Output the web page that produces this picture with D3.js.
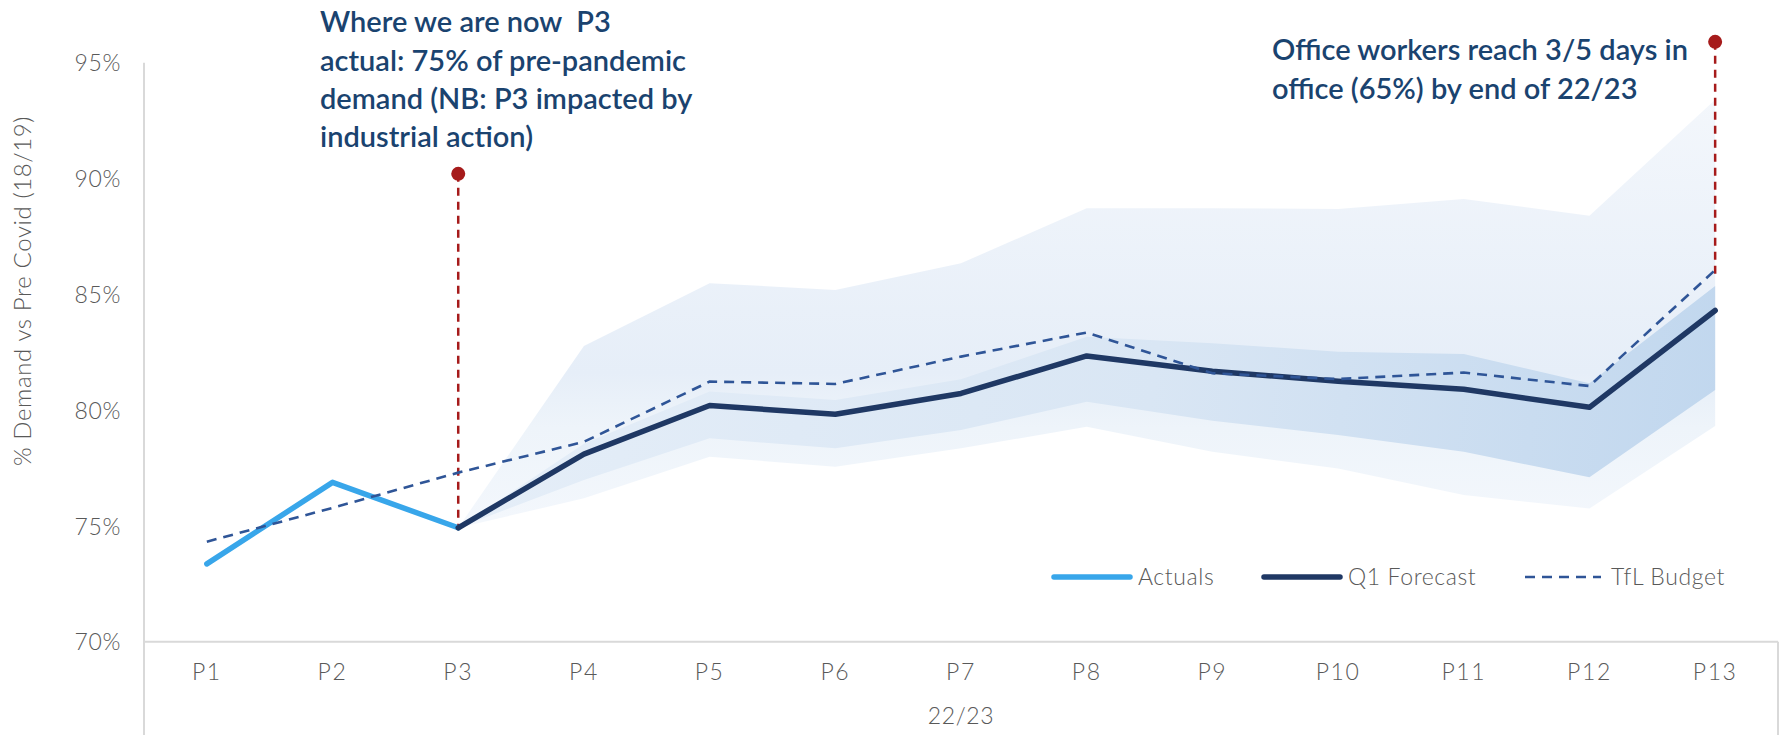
<!DOCTYPE html>
<html>
<head>
<meta charset="utf-8">
<script src="https://cdn.jsdelivr.net/npm/d3@7"></script>
<style>
  html, body { margin: 0; padding: 0; background: #ffffff; }
  svg { display: block; }
  text { font-family: Lato, "Noto Sans", sans-serif; }
  .lbl { font-weight: 300; letter-spacing: 0.6px; }
</style>
</head>
<body>
<svg id="chart" width="1792" height="735"></svg>
<script>
// ---- data -------------------------------------------------------------
const periods = ["P1", "P2", "P3", "P4", "P5", "P6", "P7", "P8", "P9", "P10", "P11", "P12", "P13"];
const yearLabel = "22/23";
const yTicks = [70, 75, 80, 85, 90, 95];

// demand as % of 18/19 (pre-Covid)
const actuals  = [73.36, 76.88, 74.92, null, null, null, null, null, null, null, null, null, null];
const forecast = [null, null, 74.92, 78.10, 80.20, 79.82, 80.72, 82.34, 81.68, 81.25, 80.90, 80.12, 84.30];
const budget   = [74.32, 75.78, 77.30, 78.63, 81.23, 81.13, 82.31, 83.35, 81.59, 81.34, 81.62, 81.04, 86.05];

// forecast ranges: wide (outer) and narrow (inner)
const outerHigh = [null, null, 74.92, 82.77, 85.48, 85.19, 86.34, 88.72, 88.72, 88.68, 89.11, 88.39, 93.40];
const outerLow  = [null, null, 74.92, 76.19, 77.99, 77.55, 78.35, 79.28, 78.20, 77.48, 76.33, 75.75, 79.31];
const innerHigh = [null, null, 74.92, 78.55, 80.80, 80.44, 81.33, 83.17, 82.89, 82.52, 82.42, 81.16, 85.36];
const innerLow  = [null, null, 74.92, 76.98, 78.78, 78.35, 79.14, 80.36, 79.54, 78.92, 78.20, 77.10, 80.87];

// call-outs
const calloutPeriods = ["P3", "P13"];
const calloutTop     = [90.2, 95.9];
const calloutBottom  = [74.92, 85.8];
const calloutText = [
  ["Where we are now  P3", "actual: 75% of pre-pandemic", "demand (NB: P3 impacted by", "industrial action)"],
  ["Office workers reach 3/5 days in", "office (65%) by end of 22/23"]
];

const legendNames = ["Actuals", "Q1 Forecast", "TfL Budget"];

// ---- setup ------------------------------------------------------------
const svg = d3.select("#chart");
const W = 1792, H = 735;
const plotLeft = 144, plotRight = 1778, plotTop = 62.7, plotBottom = 641.7;

const x = d3.scaleBand().domain(periods).range([plotLeft, plotRight]).paddingInner(0).paddingOuter(0);
const cx = p => x(p) + x.bandwidth() / 2;
const y = d3.scaleLinear().domain([70, 95]).range([plotBottom, plotTop]);

const navy = "#1f3864", sky = "#38a6ea", dashBlue = "#2f5597", red = "#a61b1b";
const axisGrey = "#d9d9d9", labelGrey = "#595959", noteBlue = "#1a436f";

const defs = svg.append("defs");
const gOuter = defs.append("linearGradient").attr("id", "outerFill")
  .attr("gradientUnits", "userSpaceOnUse").attr("x1", 0).attr("y1", 60).attr("x2", 0).attr("y2", 520);
gOuter.append("stop").attr("offset", 0).attr("stop-color", "#f5f8fc");
gOuter.append("stop").attr("offset", 0.68).attr("stop-color", "#e6eef8");
gOuter.append("stop").attr("offset", 0.8).attr("stop-color", "#eef4fa");
gOuter.append("stop").attr("offset", 1).attr("stop-color", "#f3f7fc");

const gInner = defs.append("linearGradient").attr("id", "innerFill")
  .attr("gradientUnits", "userSpaceOnUse").attr("x1", 460).attr("y1", 330).attr("x2", 1715).attr("y2", 480);
gInner.append("stop").attr("offset", 0).attr("stop-color", "#e5eef8");
gInner.append("stop").attr("offset", 0.55).attr("stop-color", "#d9e6f4");
gInner.append("stop").attr("offset", 1).attr("stop-color", "#c1d7ee");

// ---- range bands ------------------------------------------------------
const idx = d3.range(periods.length);
const band = (hi, lo) => d3.area()
  .defined(i => hi[i] != null && lo[i] != null)
  .x(i => cx(periods[i]))
  .y0(i => y(lo[i]))
  .y1(i => y(hi[i]));

svg.append("path").attr("d", band(outerHigh, outerLow)(idx)).attr("fill", "url(#outerFill)");
svg.append("path").attr("d", band(innerHigh, innerLow)(idx)).attr("fill", "url(#innerFill)");

// ---- axes -------------------------------------------------------------
const yAxis = svg.append("g").attr("transform", `translate(${plotLeft},0)`)
  .call(d3.axisLeft(y).tickValues(yTicks).tickFormat(d => d + "%").tickSize(0).tickPadding(23));
yAxis.select(".domain").remove();
yAxis.selectAll("text").attr("class", "lbl").attr("fill", labelGrey).attr("font-size", 23).attr("dy", "0.36em");

const xAxis = svg.append("g").attr("transform", `translate(0,${plotBottom})`)
  .call(d3.axisBottom(x).tickSize(0));
xAxis.select(".domain").remove();
xAxis.selectAll("text").attr("class", "lbl").attr("fill", labelGrey).attr("font-size", 23)
  .attr("y", 30).attr("dy", "0.36em").style("letter-spacing", "1.6px");

// axis frame lines
svg.append("line").attr("x1", plotLeft).attr("x2", plotLeft).attr("y1", y(95)).attr("y2", H)
  .attr("stroke", axisGrey).attr("stroke-width", 2);
svg.append("line").attr("x1", plotLeft).attr("x2", plotRight).attr("y1", y(70)).attr("y2", y(70))
  .attr("stroke", axisGrey).attr("stroke-width", 2);
svg.append("line").attr("x1", plotRight).attr("x2", plotRight).attr("y1", y(70)).attr("y2", H)
  .attr("stroke", axisGrey).attr("stroke-width", 2);

// group label under the periods
svg.append("text").attr("class", "lbl").attr("x", cx("P7")).attr("y", 716).attr("dy", "0.36em")
  .attr("text-anchor", "middle").attr("fill", labelGrey).attr("font-size", 23).text(yearLabel);

// y-axis title
svg.append("text").attr("class", "lbl").attr("transform", `translate(22,291) rotate(-90)`).attr("dy", "0.36em")
  .attr("text-anchor", "middle").attr("fill", labelGrey).attr("font-size", 24)
  .text("% Demand vs Pre Covid (18/19)");

// ---- call-out stems ---------------------------------------------------
calloutPeriods.forEach((p, i) => {
  svg.append("line").attr("x1", cx(p)).attr("x2", cx(p))
    .attr("y1", y(calloutTop[i])).attr("y2", y(calloutBottom[i]))
    .attr("stroke", red).attr("stroke-width", 2.5).attr("stroke-dasharray", "8,6");
});

// ---- lines ------------------------------------------------------------
const line = vals => d3.line()
  .defined(i => vals[i] != null)
  .x(i => cx(periods[i]))
  .y(i => y(vals[i]))(idx);

svg.append("path").attr("d", line(actuals)).attr("fill", "none")
  .attr("stroke", sky).attr("stroke-width", 5.5).attr("stroke-linecap", "round").attr("stroke-linejoin", "round");
svg.append("path").attr("d", line(forecast)).attr("fill", "none")
  .attr("stroke", navy).attr("stroke-width", 5.5).attr("stroke-linecap", "round").attr("stroke-linejoin", "round");
svg.append("path").attr("d", line(budget)).attr("fill", "none")
  .attr("stroke", dashBlue).attr("stroke-width", 2.6).attr("stroke-dasharray", "10,7");

// ---- call-out dots and text -------------------------------------------
calloutPeriods.forEach((p, i) => {
  svg.append("circle").attr("cx", cx(p)).attr("cy", y(calloutTop[i])).attr("r", 7).attr("fill", red);
});

const noteX = [320, 1272], noteY = [22, 50];
calloutText.forEach((lines, i) => {
  const t = svg.append("text").attr("fill", noteBlue).attr("font-size", 29).attr("font-weight", 600)
    .attr("x", noteX[i]).attr("y", noteY[i]).style("white-space", "pre");
  lines.forEach((s, k) => {
    t.append("tspan").attr("x", noteX[i]).attr("y", noteY[i] + k * 38.3).attr("dy", "0.36em").text(s);
  });
});

// ---- legend -----------------------------------------------------------
const legendY = 577;
const legendX = [1054, 1264, 1525];
const legendStyles = [
  { stroke: sky, width: 5.5, dash: null },
  { stroke: navy, width: 5.5, dash: null },
  { stroke: dashBlue, width: 2.6, dash: "10,7" }
];
legendNames.forEach((name, i) => {
  const g = svg.append("g").attr("transform", `translate(${legendX[i]},${legendY})`);
  const ln = g.append("line").attr("x1", 0).attr("x2", 76).attr("y1", 0).attr("y2", 0)
    .attr("stroke", legendStyles[i].stroke).attr("stroke-width", legendStyles[i].width)
    .attr("stroke-linecap", legendStyles[i].dash ? "butt" : "round");
  if (legendStyles[i].dash) ln.attr("stroke-dasharray", legendStyles[i].dash);
  g.append("text").attr("class", "lbl").attr("x", i === 2 ? 86 : 84).attr("y", 0).attr("dy", "0.36em")
    .attr("fill", labelGrey).attr("font-size", 23).text(name);
});
</script>
</body>
</html>
